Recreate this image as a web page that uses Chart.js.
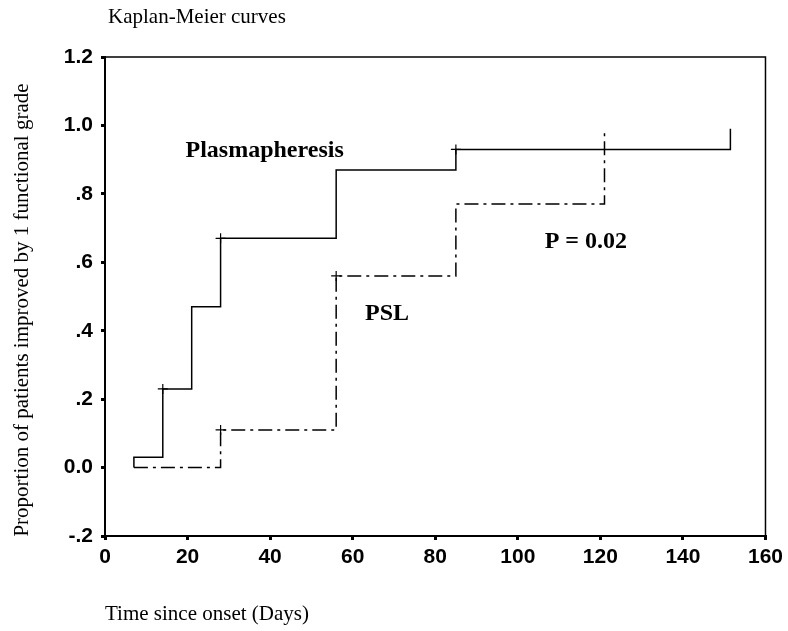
<!DOCTYPE html>
<html lang="en">
<head>
    <meta charset="UTF-8">
    <title>Kaplan-Meier curves</title>
    <script src="https://cdn.jsdelivr.net/npm/chart.js"></script>
    <style>
        html, body { margin: 0; padding: 0; background: #fff; }
        #wrap { width: 788px; height: 631px; }
    </style>
</head>
<body>
    <div id="wrap"><canvas id="kmChart" width="788" height="631"></canvas></div>
    <script>
        // Plasmapheresis step curve (days, proportion)
        const plasmaDays = [7, 7, 14, 21, 28, 56, 85, 151.5];
        const plasmaProp = [0, 0.03, 0.23, 0.47, 0.67, 0.87, 0.93, 0.99];
        // censor marks on plasmapheresis curve
        const plasmaCensDays = [14, 28, 85];
        const plasmaCensProp = [0.23, 0.67, 0.93];

        // PSL step curve
        const pslDays = [7, 28, 56, 85, 121];
        const pslProp = [0, 0.11, 0.56, 0.77, 0.99];
        const pslCensDays = [28, 56];
        const pslCensProp = [0.11, 0.56];

        const yTicks = [-0.2, 0, 0.2, 0.4, 0.6, 0.8, 1.0, 1.2];
        const yTickLabels = ['-.2', '0.0', '.2', '.4', '.6', '.8', '1.0', '1.2'];
        const xTicks = [0, 20, 40, 60, 80, 100, 120, 140, 160];

        const pts = (xs, ys) => xs.map((x, i) => ({ x: x, y: ys[i] }));

        const serif = '"Liberation Serif", "DejaVu Serif", serif';
        const tickFont = '"Liberation Sans", Arial, sans-serif';

        // text labels + frame
        const extras = {
            id: 'extras',
            afterDraw(chart) {
                const ctx = chart.ctx;
                const a = chart.chartArea;
                const sx = chart.scales.x, sy = chart.scales.y;
                ctx.save();
                ctx.strokeStyle = '#000';
                ctx.lineWidth = 1.5;
                ctx.strokeRect(a.left, a.top, a.right - a.left, a.bottom - a.top);

                ctx.fillStyle = '#000';
                ctx.textBaseline = 'middle';
                ctx.textAlign = 'left';
                ctx.font = '21px ' + serif;
                ctx.fillText('Kaplan-Meier curves', 108, 17);
                ctx.fillText('Time since onset (Days)', 105, 614);

                ctx.font = 'bold 24px ' + serif;
                ctx.fillText('Plasmapheresis', sx.getPixelForValue(19.5), sy.getPixelForValue(0.925));
                ctx.fillText('PSL', sx.getPixelForValue(63), sy.getPixelForValue(0.45));
                ctx.fillText('P = 0.02', sx.getPixelForValue(106.5), sy.getPixelForValue(0.66));

                ctx.translate(22, 310);
                ctx.rotate(-Math.PI / 2);
                ctx.textAlign = 'center';
                ctx.font = '21px ' + serif;
                ctx.fillText('Proportion of patients improved by 1 functional grade', 0, 0);
                ctx.restore();
            }
        };

        new Chart(document.getElementById('kmChart'), {
            type: 'scatter',
            data: {
                datasets: [
                    {
                        label: 'Plasmapheresis',
                        data: pts(plasmaDays, plasmaProp),
                        showLine: true,
                        stepped: 'before',
                        borderColor: '#000',
                        borderWidth: 1.5,
                        pointRadius: 0
                    },
                    {
                        label: 'PSL',
                        data: pts(pslDays, pslProp),
                        showLine: true,
                        stepped: 'before',
                        borderColor: '#000',
                        borderWidth: 1.5,
                        borderDash: [14, 5, 3, 5],
                        pointRadius: 0
                    },
                    {
                        label: 'censored',
                        data: pts(plasmaCensDays, plasmaCensProp).concat(pts(pslCensDays, pslCensProp)),
                        pointStyle: 'cross',
                        pointRadius: 5,
                        borderColor: '#000',
                        borderWidth: 1.2
                    }
                ]
            },
            options: {
                responsive: false,
                animation: false,
                layout: { padding: { left: 0, right: 20, top: 57, bottom: 0 } },
                plugins: { legend: { display: false }, tooltip: { enabled: false } },
                scales: {
                    x: {
                        type: 'linear',
                        min: 0, max: 160,
                        afterBuildTicks: (s) => { s.ticks = xTicks.map(v => ({ value: v })); },
                        afterFit: (s) => { s.height = 95; },
                        border: { color: '#000', width: 2 },
                        grid: { drawOnChartArea: false, color: '#000', lineWidth: 3, tickLength: 4 },
                        ticks: {
                            color: '#000',
                            padding: 5,
                            maxRotation: 0,
                            font: { family: tickFont, size: 21, weight: 'bold' }
                        }
                    },
                    y: {
                        type: 'linear',
                        min: -0.2, max: 1.2,
                        afterBuildTicks: (s) => { s.ticks = yTicks.map(v => ({ value: v })); },
                        afterFit: (s) => { s.width = 105; },
                        border: { color: '#000', width: 2 },
                        grid: { drawOnChartArea: false, color: '#000', lineWidth: 3, tickLength: 4 },
                        ticks: {
                            color: '#000',
                            padding: 8,
                            callback: (v) => {
                                const i = yTicks.findIndex(t => Math.abs(t - v) < 1e-6);
                                return i >= 0 ? yTickLabels[i] : '';
                            },
                            font: { family: tickFont, size: 21, weight: 'bold' }
                        }
                    }
                }
            },
            plugins: [extras]
        });
    </script>
</body>
</html>
